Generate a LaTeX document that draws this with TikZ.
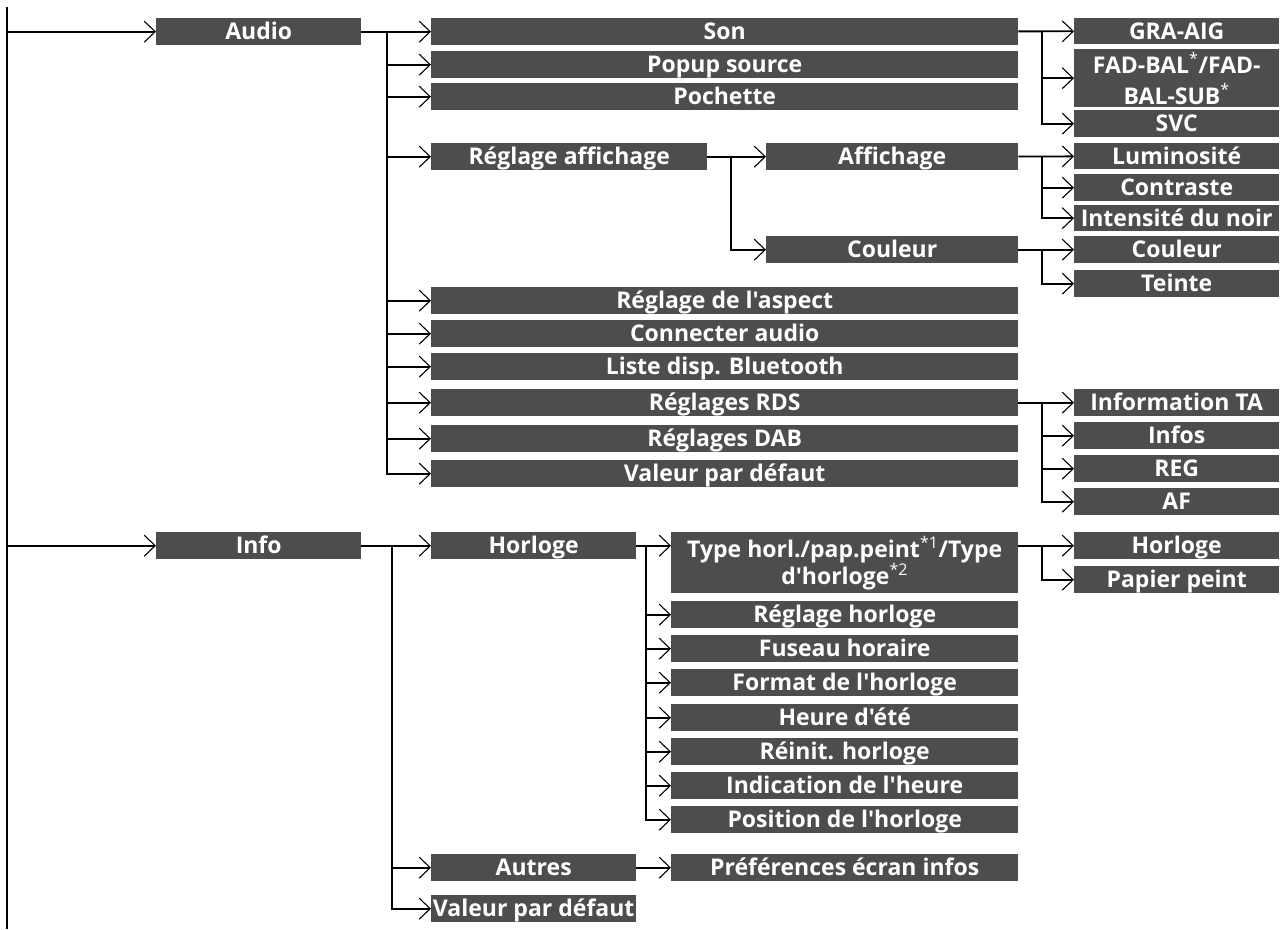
\documentclass[tikz,border=0pt]{standalone}
\usepackage{fontspec}
\newfontfamily\menufont{Open Sans}
\usetikzlibrary{arrows.meta}
\definecolor{menugray}{RGB}{77,77,77}
\tikzset{
x=1pt, y=-1pt, % one unit is one pixel, y runs downwards
>={Straight Barb[length=11pt,width=21pt,line width=1.1pt]}, % open arrow heads
link/.style={->, line width=1.8pt}, % connector from a menu to one of its entries
trunk/.style={line width=1.8pt}, % the long line on the left
box/.style={fill=menugray, text=white, anchor=north west, inner sep=0pt,
  font=\menufont\bfseries\fontsize{23}{27}\selectfont,
  minimum width=#1, minimum height=27pt},
menu/.style={box=#1, text height=16.4pt, text depth=0pt}, % one line of text
menu/.default=205pt,
menutwo/.style={box=#1, align=center}, % two lines of text
}

\begin{document}
\begin{tikzpicture}
    \useasboundingbox (0,0) rectangle (1287,929);
    % first level
    \node[menu] (audio) at (156,18) {Audio};
    \node[menu] (info) at (156,532) {Info};
    % entries of Audio
    \node[menu=587pt] (son) at (431,18) {Son};
    \node[menu=587pt] (popup) at (431,51) {Popup source};
    \node[menu=587pt] (pochette) at (431,83) {Pochette};
    \node[menu=276pt] (affreg) at (431,143) {Réglage affichage};
    \node[menu=587pt] (aspect) at (431,287) {Réglage de l'aspect};
    \node[menu=587pt] (connect) at (431,320) {Connecter audio};
    \node[menu=587pt] (bluetooth) at (431,353) {Liste disp. Bluetooth};
    \node[menu=587pt] (rds) at (431,389) {Réglages RDS};
    \node[menu=587pt] (dab) at (431,425) {Réglages DAB};
    \node[menu=587pt] (defaudio) at (431,460) {Valeur par défaut};
    \node[menu=252pt] (affichage) at (766,143) {Affichage};
    \node[menu=252pt] (couleur) at (766,236) {Couleur};
    % last column of Audio
    \node[menu, minimum height=26pt] (gra) at (1074,18) {GRA-AIG};
    \node[menutwo=205pt, minimum height=58pt] (fad) at (1074,49)
        {FAD-BAL\textsuperscript{\mdseries *}/FAD-\\[4pt]BAL-SUB\textsuperscript{\mdseries *}};
    \node[menu] (svc) at (1074,110) {SVC};
    \node[menu, minimum height=26pt] (lum) at (1074,143) {Luminosité};
    \node[menu] (contraste) at (1074,174) {Contraste};
    \node[menu, minimum height=26pt] (noir) at (1074,205) {Intensité du noir};
    \node[menu] (couleurb) at (1074,236) {Couleur};
    \node[menu] (teinte) at (1074,270) {Teinte};
    \node[menu] (ta) at (1074,389) {Information TA};
    \node[menu] (infos) at (1074,422) {Infos};
    \node[menu] (reg) at (1074,455) {REG};
    \node[menu] (af) at (1074,488) {AF};
    % entries of Info
    \node[menu] (horloge) at (431,532) {Horloge};
    \node[menu] (autres) at (431,854) {Autres};
    \node[menu] (definfo) at (431,895) {Valeur par défaut};
    \node[menutwo=347pt, minimum height=61pt] (type) at (671,532)
        {Type horl./pap.peint\textsuperscript{\mdseries *1}/Type\\d'horloge\textsuperscript{\mdseries *2}};
    \node[menu=347pt] (reglhor) at (671,601) {Réglage horloge};
    \node[menu=347pt] (fuseau) at (671,635) {Fuseau horaire};
    \node[menu=347pt] (format) at (671,669) {Format de l'horloge};
    \node[menu=347pt] (ete) at (671,704) {Heure d'été};
    \node[menu=347pt] (reinit) at (671,738) {Réinit. horloge};
    \node[menu=347pt] (indic) at (671,772) {Indication de l'heure};
    \node[menu=347pt] (position) at (671,806) {Position de l'horloge};
    \node[menu=347pt] (pref) at (671,854) {Préférences écran infos};
    \node[menu] (horlogeb) at (1074,532) {Horloge};
    \node[menu] (papier) at (1074,566) {Papier peint};
    % where the forks go down
    \coordinate (top) at (7,7);
    \coordinate (bottom) at (7,929);
    \coordinate (audiobus) at (387,0);
    \coordinate (infobus) at (392,0);
    \coordinate (affbus) at (731,0);
    \coordinate (horbus) at (646,0);
    \coordinate (rightbus) at (1042,0);
    \draw[trunk] (top) -- (bottom);
    \draw[link] (top |- audio) -- (audio);
    \draw[link] (top |- info) -- (info);
    \draw[link] (audio) -- (son);
    \foreach \c in {popup,pochette,affreg,aspect,connect,bluetooth,rds,dab,defaudio}
        \draw[link] (audio.east -| audiobus) |- (\c.west);
    \draw[link] (affreg) -- (affichage);
    \draw[link] (affreg.east -| affbus) |- (couleur.west);
    \draw[link] (son) -- (gra);
    \foreach \c in {fad,svc}
        \draw[link] (son.east -| rightbus) |- (\c.west);
    \draw[link] (affichage) -- (lum);
    \foreach \c in {contraste,noir}
        \draw[link] (affichage.east -| rightbus) |- (\c.west);
    \draw[link] (couleur) -- (couleurb);
    \draw[link] (couleur.east -| rightbus) |- (teinte.west);
    \draw[link] (rds) -- (ta);
    \foreach \c in {infos,reg,af}
        \draw[link] (rds.east -| rightbus) |- (\c.west);
    \draw[link] (info) -- (horloge);
    \foreach \c in {autres,definfo}
        \draw[link] (info.east -| infobus) |- (\c.west);
    \draw[link] (horloge) -- (type.west |- horloge);
    \foreach \c in {reglhor,fuseau,format,ete,reinit,indic,position}
        \draw[link] (horloge.east -| horbus) |- (\c.west);
    \draw[link] (type.east |- horlogeb) -- (horlogeb);
    \draw[link] (horlogeb.west -| rightbus) |- (papier.west);
    \draw[link] (autres) -- (pref);
\end{tikzpicture}
\end{document}
